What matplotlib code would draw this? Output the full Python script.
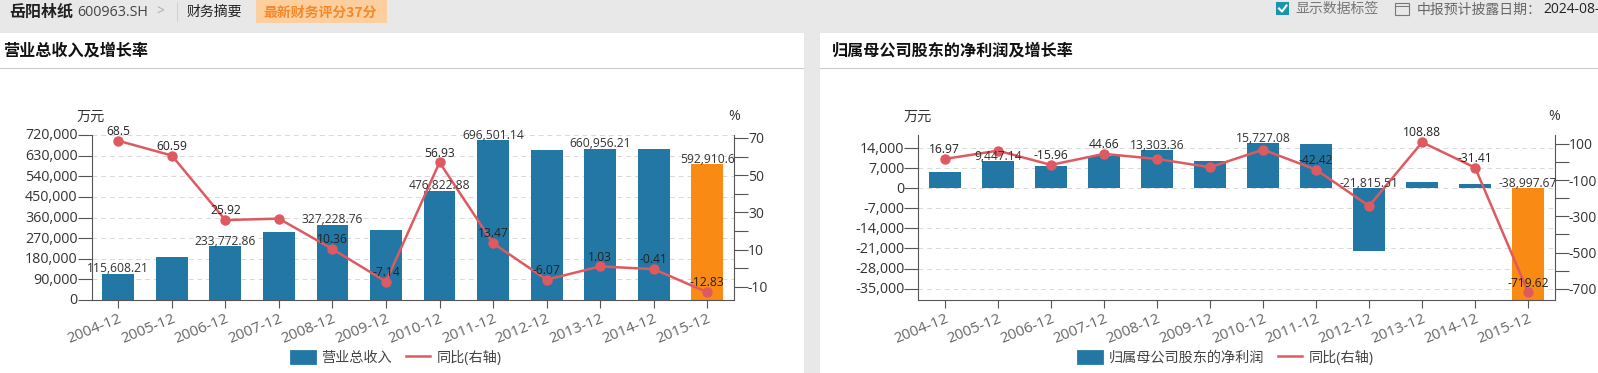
import matplotlib
matplotlib.use('Agg')
import matplotlib.pyplot as plt
from matplotlib.lines import Line2D
from matplotlib.patches import Patch, Rectangle
from matplotlib.transforms import ScaledTranslation

plt.rcParams['font.family'] = ['Open Sans', 'Noto Sans CJK SC']
plt.rcParams['axes.unicode_minus'] = False

W, H = 1598, 373

years = ['2004-12', '2005-12', '2006-12', '2007-12', '2008-12', '2009-12',
         '2010-12', '2011-12', '2012-12', '2013-12', '2014-12', '2015-12']

revenue = [115608.21, 185655, 233772.86, 296200, 327228.76, 303865,
           476822.88, 696501.14, 654224, 660956.21, 658246, 592910.6]
revenue_rate = [68.5, 60.59, 25.92, 26.7, 10.36, -7.14,
                56.93, 13.47, -6.07, 1.03, -0.41, -12.83]
revenue_bar_labels = ['115,608.21', None, '233,772.86', None, '327,228.76', None,
                      '476,822.88', '696,501.14', None, '660,956.21', None, '592,910.6']
revenue_rate_labels = ['68.5', '60.59', '25.92', None, '10.36', '-7.14',
                       '56.93', '13.47', '-6.07', '1.03', '-0.41', '-12.83']

profit = [5700, 9447.14, 7939, 11485, 13303.36, 9555,
          15727.08, 15500, -21815.51, 2100, 1500, -38997.67]
profit_rate = [16.97, 62.4, -15.96, 44.66, 16.6, -29,
               68, -42.42, -243, 108.88, -31.41, -719.62]
profit_bar_labels = [None, '9,447.14', None, None, '13,303.36', None,
                     '15,727.08', None, '-21,815.51', None, None, '-38,997.67']
profit_rate_labels = ['16.97', None, '-15.96', '44.66', None, None,
                      None, '-42.42', None, '108.88', '-31.41', '-719.62']

revenue_ticks = [0, 90000, 180000, 270000, 360000, 450000, 540000, 630000, 720000]
revenue_rate_ticks = [-10, 0, 10, 20, 30, 40, 50, 60, 70]
profit_ticks = [-35000, -28000, -21000, -14000, -7000, 0, 7000, 14000]
profit_rate_ticks = [-700, -600, -500, -400, -300, -200, -100, 0, 100]

BAR = '#2277a4'
ORANGE = '#f98a14'
RED = '#de5a60'
AXIS = '#555555'
TXT = '#333333'


def px(x, y):
    return x / W, 1 - y / H


def label(x, y, s, **kw):
    kw.setdefault('va', 'center')
    kw.setdefault('color', '#222222')
    fig.text(*px(x, y), s, **kw)


def box(x0, y0, x1, y1, color, **kw):
    kw.setdefault('zorder', -1)
    fig.add_artist(Rectangle(px(x0, y1), (x1 - x0) / W, (y1 - y0) / H,
                             transform=fig.transFigure, facecolor=color,
                             edgecolor=kw.pop('edgecolor', 'none'), **kw))


def draw_chart(x0, x1, bars, rate, bar_labels, rate_labels, ticks, rate_ticks,
               ylim, rate_lim, legend_name, legend_x):
    ax = fig.add_axes([x0 / W, 1 - 300 / H, (x1 - x0) / W, 165 / H])
    ax.patch.set_alpha(0)
    colors = [BAR] * 11 + [ORANGE]
    pos = list(range(len(years)))
    ax.bar(pos, bars, width=0.595, color=colors, zorder=2)
    ax.set_xlim(-0.5, 11.5)
    ax.set_ylim(*ylim)
    ax.set_yticks(ticks)
    ax.set_yticklabels([f'{t:,}' for t in ticks], fontsize=10.3, color=TXT)
    ax.set_xticks(pos)
    ax.set_xticklabels(years, rotation=22, ha='right', rotation_mode='anchor',
                       fontsize=11, color='#666666')
    ax.tick_params(axis='y', length=10, width=0.8, color=AXIS, pad=0)
    ax.tick_params(axis='x', length=6, width=0.8, color=AXIS, pad=2)
    ax.grid(axis='y', linestyle=(0, (5, 4)), color='#d8d8d8', linewidth=0.7, zorder=1)
    ax.set_axisbelow(True)
    for s in ['top', 'right']:
        ax.spines[s].set_visible(False)
    for s in ['left', 'bottom']:
        ax.spines[s].set_color(AXIS)
    # labels sit a little above their ticks in the reference
    up = ScaledTranslation(0, 1 / 100, fig.dpi_scale_trans)
    for lbl in ax.get_yticklabels():
        lbl.set_transform(lbl.get_transform() + up)

    ax2 = ax.twinx()
    ax2.plot(pos, rate, color=RED, linewidth=1.8, marker='o', markersize=7.5,
             markeredgewidth=0, zorder=3)
    ax2.set_ylim(*rate_lim)
    ax2.set_yticks(rate_ticks)
    ax2.set_yticklabels([str(t) if i % 2 == 0 else '' for i, t in enumerate(rate_ticks)],
                        fontsize=10, color=TXT)
    ax2.tick_params(axis='y', length=10, width=0.8, color=AXIS, pad=0)
    for s in ['top', 'left', 'bottom']:
        ax2.spines[s].set_visible(False)
    ax2.spines['right'].set_color(AXIS)

    for i, s in enumerate(bar_labels):
        if s:
            ax2.annotate(s, (i, ax2.transData.inverted().transform(
                ax.transData.transform((i, max(bars[i], 0))))[1]),
                xytext=(0, -1), textcoords='offset points', ha='center', va='bottom',
                fontsize=8.7, color=TXT, zorder=5)
    for i, s in enumerate(rate_labels):
        if s:
            ax2.annotate(s, (i, rate[i]), xytext=(0, 2), textcoords='offset points',
                         ha='center', va='bottom', fontsize=8.7, color='#222222', zorder=5)

    label(x0 - 15, 117, '万元', fontsize=10.2, ha='left', color=TXT)
    label(x1 - 6, 116, '%', fontsize=10.2, ha='left', color=TXT)

    handles = [Patch(facecolor=BAR, edgecolor=BAR, linewidth=2, joinstyle='round'),
               Line2D([0], [0], color=RED, linewidth=1.8)]
    fig.legend(handles, [legend_name, '同比(右轴)'], loc='center left',
               bbox_to_anchor=px(legend_x, 358), ncol=2, frameon=False, fontsize=10.2,
               labelcolor='#444444', handlelength=1.7, handleheight=0.9, handletextpad=0.45,
               columnspacing=1.0, borderpad=0, borderaxespad=0)


fig = plt.figure(figsize=(W / 100, H / 100), dpi=100, facecolor='#e8e8e8')

# page background
box(0, 33, 804, 373, 'white')
box(820, 33, 1598, 373, 'white')
box(0, 68, 804, 69, '#c8c8c8')
box(820, 68, 1598, 69, '#c8c8c8')

# header bar
label(9, 12, '岳阳林纸', fontsize=11.5, fontweight='bold', family=['Noto Sans CJK SC'])
label(77, 12, '600963.SH', fontsize=10.3, color='#444444')
label(156, 12, '>', fontsize=10, color='#aaaaaa')
box(177, 2, 178, 22, '#d0d0d0')
label(187, 12.5, '财务摘要', fontsize=10)
box(256, 0, 387, 23, '#fdcf9f')
label(263, 12.5, '最新财务评分37分', fontsize=10, color='#f5892a', fontweight='bold',
      family=['Noto Sans CJK SC'])
box(1276, 2, 1289, 15, '#1a94ae')
fig.add_artist(Line2D([1279 / W, 1282 / W, 1286.5 / W],
                      [1 - 8.5 / H, 1 - 11.5 / H, 1 - 5.5 / H],
                      color='white', linewidth=1.5, transform=fig.transFigure))
label(1295, 9.5, '显示数据标签', fontsize=10, color='#777777')
box(1395, 3, 1409, 15, 'none', edgecolor='#777777', linewidth=0.8)
box(1395, 6, 1409, 7, '#777777')
label(1417, 9.5, '中报预计披露日期：', fontsize=10, color='#666666', family=['Noto Sans CJK SC'])
label(1543, 9.5, '2024-08-', fontsize=10, color='#222222')

# panel titles
label(3, 50, '营业总收入及增长率', fontsize=11.6, fontweight='bold', color='#111111',
      family=['Noto Sans CJK SC'])
label(832, 50, '归属母公司股东的净利润及增长率', fontsize=11.6, fontweight='bold', color='#111111',
      family=['Noto Sans CJK SC'])

draw_chart(91.5, 734, revenue, revenue_rate, revenue_bar_labels, revenue_rate_labels,
           revenue_ticks, revenue_rate_ticks, (0, 720000), (-17, 71.6), '营业总收入', 291)
draw_chart(918.3, 1554.7, profit, profit_rate, profit_bar_labels, profit_rate_labels,
           profit_ticks, profit_rate_ticks, (-39000, 18650), (-762, 149),
           '归属母公司股东的净利润', 1078)

fig.savefig('out.png', dpi=100, facecolor=fig.get_facecolor())
